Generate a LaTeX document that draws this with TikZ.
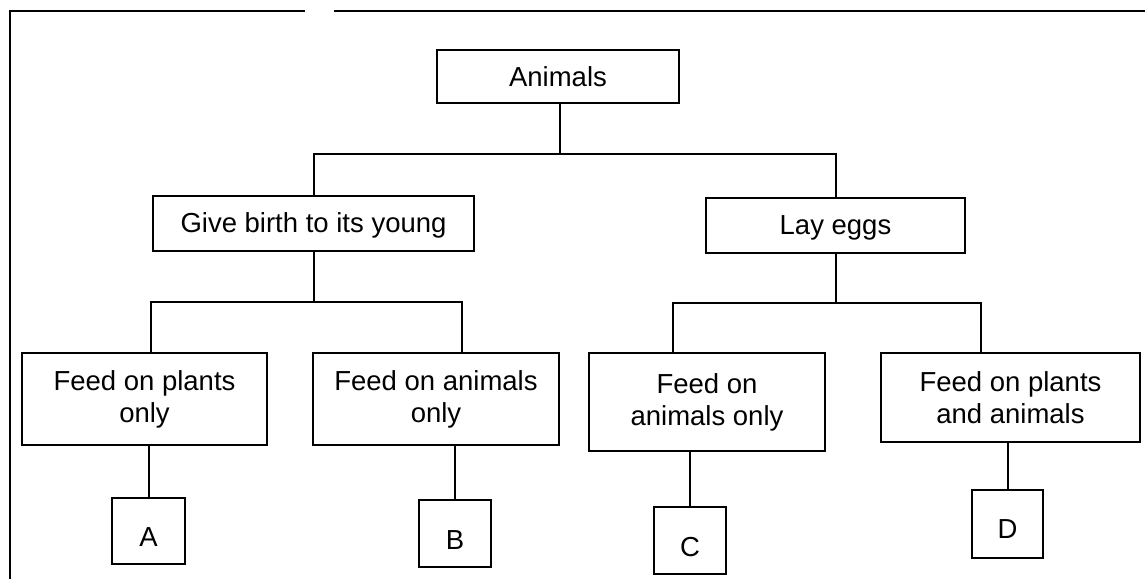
\documentclass[tikz,border=0pt]{standalone}
\usepackage{fontspec}
\setmainfont{Liberation Sans}
\begin{document}
\begin{tikzpicture}[x=1pt,y=-1pt,
  line width=2pt,
  every node/.style={inner sep=0pt, outer sep=0pt, anchor=north west},
  box/.style={draw, line width=2pt, align=center,
    font=\fontsize{27.5}{32}\selectfont},
  leaf/.style={draw, line width=2pt, minimum width=72pt,
    font=\fontsize{27.5}{32}\selectfont, text depth=18pt}]
\useasboundingbox (0,0) rectangle (1145,579);

% frame: broken top rule and left rule
\draw (10,579) -- (10,11) -- (305,11);
\draw (334,11) -- (1145,11);

% top level
\node[box, minimum width=242pt, minimum height=53pt] (an) at (437,50) {Animals};

% second level
\node[box, minimum width=321pt, minimum height=55pt, text height=20pt, text depth=2pt] (gb) at (153,196) {Give birth to its young};
\node[box, minimum width=259pt, minimum height=55pt, text height=20pt, text depth=2pt] (le) at (706,198) {Lay eggs};

% third level
\node[box, minimum width=245pt, minimum height=92pt] (fp) at (22,353) {Feed on plants\\only};
\node[box, minimum width=246pt, minimum height=92pt] (fa) at (313,353) {Feed on animals\\only};
\node[box, minimum width=236pt, minimum height=98pt] (fc) at (589,353) {Feed on\\animals only};
\node[box, minimum width=259pt, minimum height=89pt] (fd) at (881,353) {Feed on plants\\and animals};

% lettered leaves
\node[leaf, text height=48pt, minimum width=73pt] (A) at (112,498) {A};
\node[leaf, text height=49pt] (B) at (419,500) {B};
\node[leaf, text height=49pt] (C) at (654,507) {C};
\node[leaf, text height=48pt, text depth=20pt, minimum width=71pt] (D) at (972,490) {D};

% junction points of the connectors
\coordinate (j0) at (560,154);
\coordinate (p1) at (151,302);
\coordinate (p2) at (462,302);
\coordinate (q1) at (673,303);
\coordinate (q2) at (981,303);

% Animals -> two groups
\draw (an.south -| j0) -- (j0);
\draw (gb.north) |- (j0) -| (le.north);

% Give birth -> feeding groups
\draw (gb.south) -- (gb.south |- p1);
\draw (p1 |- fp.north) -- (p1) -- (p2) -- (p2 |- fa.north);

% Lay eggs -> feeding groups
\draw (le.south) -- (le.south |- q1);
\draw (q1 |- fc.north) -- (q1) -- (q2) -- (q2 |- fd.north);

% feeding groups -> letters
\draw (A.north |- fp.south) -- (A.north);
\draw (B.north |- fa.south) -- (B.north);
\draw (C.north |- fc.south) -- (C.north);
\draw (D.north |- fd.south) -- (D.north);
\end{tikzpicture}
\end{document}
